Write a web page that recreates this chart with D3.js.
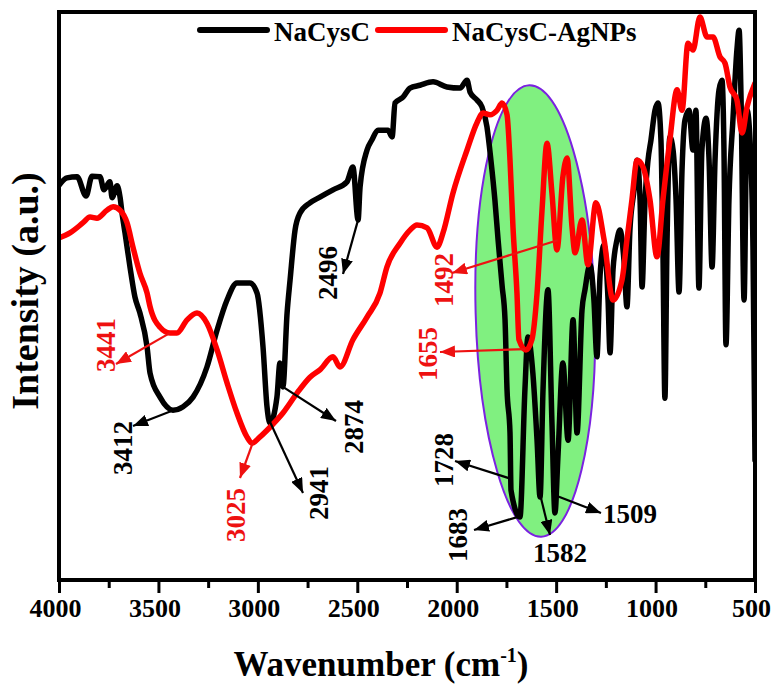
<!DOCTYPE html>
<html>
<head>
<meta charset="utf-8">
<script src="https://cdn.jsdelivr.net/npm/d3@7/dist/d3.min.js"></script>
<style>
  body { margin: 0; background: #fff; }
  svg text { font-family: "Liberation Serif", "DejaVu Serif", serif; font-weight: bold; }
</style>
</head>
<body>
<svg id="chart" width="784" height="688"></svg>
<script>
// NaCysC (black) spectrum
const cysWn = [4000,3960,3909,3864,3834,3794,3774,3744,3733,3708,
  3693,3683,3668,3643,3618,3593,3557,3542,3492,3427,
  3376,3326,3256,3205,3155,3105,3040,3004,2974,2954,
  2939,2904,2889,2874,2853,2838,2813,2788,2738,2688,
  2622,2552,2522,2496,2486,2451,2426,2396,2346,2325,
  2310,2270,2235,2185,2119,2049,1983,1948,1933,1898,
  1873,1848,1828,1808,1792,1772,1757,1747,1732,1727,
  1682,1657,1642,1617,1596,1581,1566,1541,1521,1506,
  1491,1466,1440,1415,1395,1370,1355,1330,1310,1295,
  1279,1259,1239,1229,1214,1194,1179,1159,1144,1129,
  1108,1093,1078,1068,1053,1038,1023,1003,988,973,
  963,953,943,928,912,897,882,867,852,832,
  812,797,782,767,746,731,716,701,681,666,
  656,646,631,611,591,580,570,555,540,525,
  510,500];
const cysInt = [69.5,70.8,71.0,67.6,71.1,71.0,68.7,70.1,67.3,69.4,
  67.4,64.6,61.1,55.1,49.8,47.0,41.0,36.4,32.2,29.9,
  30.5,32.2,37.5,44.0,49.3,52.3,52.3,50.5,41.0,30.5,
  27.6,32.2,38.2,34.0,47.0,52.8,61.6,64.6,66.4,67.4,
  68.7,70.1,72.7,63.4,69.2,75.7,77.5,79.2,79.2,78.0,
  84.0,85.0,86.6,87.1,87.7,86.8,86.6,88.0,85.9,84.5,
  83.3,79.8,73.9,66.9,59.9,51.9,45.8,33.5,25.9,15.8,
  11.1,33.5,42.8,36.4,24.6,14.6,33.5,51.1,27.6,11.8,
  21.7,38.2,24.6,45.8,25.9,47.5,51.1,55.5,49.3,39.3,
  53.7,59.0,49.3,40.0,54.6,59.9,61.6,56.3,48.1,61.6,
  68.7,73.9,66.9,51.6,66.9,73.9,77.5,82.7,84.0,77.5,
  58.1,32.0,58.1,78.0,75.7,66.9,50.7,72.2,81.0,82.7,
  75.7,82.7,51.4,75.7,81.3,73.9,55.1,73.9,86.3,88.0,
  75.7,41.4,66.9,81.0,93.3,96.8,84.5,49.3,82.7,77.5,
  58.1,21.1];

// NaCysC-AgNPs (red) spectrum
const agWn = [4000,3945,3879,3844,3809,3759,3728,3693,3658,3628,
  3593,3557,3542,3492,3442,3407,3356,3306,3256,3205,
  3155,3105,3055,3029,2989,2939,2874,2803,2738,2688,
  2622,2587,2522,2451,2386,2351,2285,2235,2200,2149,
  2099,2069,2019,1948,1898,1868,1833,1797,1772,1747,
  1732,1717,1697,1687,1652,1622,1596,1571,1546,1521,
  1496,1466,1445,1420,1405,1370,1340,1300,1259,1214,
  1169,1144,1119,1093,1063,1028,993,963,928,892,
  867,837,812,777,741,711,676,651,626,591,
  565,540,500];
const agInt = [60.2,61.1,62.9,63.9,63.7,65.1,65.7,65.1,62.9,58.6,
  54.0,50.5,48.1,44.5,43.5,43.5,45.8,47.0,45.2,40.5,
  34.7,29.4,25.2,24.1,25.2,26.9,29.4,32.9,35.7,37.0,
  39.3,37.5,42.3,46.3,50.5,55.1,59.3,61.6,62.5,62.0,
  58.6,61.1,68.1,75.7,80.5,82.2,81.9,82.7,84.0,81.9,
  73.9,62.1,50.5,42.3,40.5,42.3,50.5,65.1,76.9,68.1,
  58.1,71.0,74.3,62.1,57.6,63.4,55.5,66.4,59.9,49.3,
  52.8,59.9,66.9,73.9,72.7,66.9,56.9,66.9,77.5,86.3,
  82.7,94.5,93.3,99.1,95.6,95.6,92.1,91.0,86.8,84.5,
  78.7,83.3,87.5];

const seriesNames = ["NaCysC", "NaCysC-AgNPs"];
const seriesColors = ["#000000", "#ff0000"];

const majorTicks = [4000,3500,3000,2500,2000,1500,1000,500];
const minorTicks = [3750,3250,2750,2250,1750,1250,750];

// labelled peaks
const peakText = ["3441","3412","3025","2941","2874","2496","1492","1655","1728","1683","1582","1509"];
const peakWn = [3441,3412,3025,2941,2874,2496,1492,1655,1728,1683,1582,1509];
const peakSeries = [1,0,1,0,0,0,1,1,0,0,0,0];

// highlighted band (the green ellipse)
const bandWn = [1905, 1305];
const bandInt = [7.6, 87.1];

// where arrows end and labels sit (pixels)
const labelLayout = [
  {tip: [116, 364], at: [115, 345], rot: true},
  {tip: [133, 426], at: [132, 448], rot: true},
  {tip: [240, 478], at: [245, 515], rot: true},
  {tip: [303, 493], at: [328, 493], rot: true},
  {tip: [336, 421], at: [363, 427], rot: true},
  {tip: [343, 274], at: [337, 273], rot: true},
  {tip: [452, 273], at: [453, 280], rot: true},
  {tip: [440, 352], at: [437, 354], rot: true},
  {tip: [455, 461], at: [453, 460], rot: true},
  {tip: [474, 530], at: [467, 535], rot: true},
  {tip: [550, 535], at: [560, 562], rot: false, anchor: "middle"},
  {tip: [601, 513], at: [603, 523], rot: false, anchor: "start"}
];

const svg = d3.select("#chart");
const plotLeft = 59, plotRight = 755, plotTop = 12, plotBottom = 580;
const serif = '"Liberation Serif", "DejaVu Serif", serif';

const x = d3.scaleLinear().domain([4000, 500]).range([plotLeft, plotRight]);
const y = d3.scaleLinear().domain([0, 100]).range([plotBottom, plotTop]);

const defs = svg.append("defs");
defs.append("clipPath").attr("id", "plot-clip")
  .append("rect").attr("x", plotLeft).attr("y", plotTop)
  .attr("width", plotRight - plotLeft).attr("height", plotBottom - plotTop);

seriesColors.forEach((c, i) => {
  defs.append("marker")
    .attr("id", "arrow" + i)
    .attr("markerUnits", "userSpaceOnUse")
    .attr("markerWidth", 16).attr("markerHeight", 12)
    .attr("refX", 15).attr("refY", 6)
    .attr("orient", "auto")
    .append("path")
    .attr("d", "M0,0 L15,6 L0,12 Z")
    .attr("fill", i === 1 ? "#ee1111" : c);
});

// green band
const bx0 = x(bandWn[0]), bx1 = x(bandWn[1]);
const by0 = y(bandInt[1]), by1 = y(bandInt[0]);
const bcx = (bx0 + bx1) / 2, bcy = (by0 + by1) / 2;
svg.append("ellipse")
  .attr("cx", bcx).attr("cy", bcy)
  .attr("rx", (bx1 - bx0) / 2).attr("ry", (by1 - by0) / 2)
  .attr("transform", `rotate(-1.5,${bcx},${bcy})`)
  .attr("fill", "#80f080")
  .attr("stroke", "#7b22e0")
  .attr("stroke-width", 2);

// spectra
const line = d3.line()
  .x(d => x(d[0]))
  .y(d => y(d[1]))
  .curve(d3.curveMonotoneX);

const series = [
  d3.zip(cysWn, cysInt),
  d3.zip(agWn, agInt)
];

const plot = svg.append("g").attr("clip-path", "url(#plot-clip)");
series.forEach((s, i) => {
  plot.append("path")
    .datum(s)
    .attr("fill", "none")
    .attr("stroke", seriesColors[i])
    .attr("stroke-width", 5.5)
    .attr("stroke-linejoin", "round")
    .attr("stroke-linecap", "round")
    .attr("d", line);
});

// value of a series at a given wavenumber
function valueAt(s, w) {
  for (let i = 0; i < s.length - 1; i++) {
    const a = s[i], b = s[i + 1];
    if (w <= a[0] && w >= b[0]) {
      const t = (a[0] - w) / (a[0] - b[0]);
      return a[1] + t * (b[1] - a[1]);
    }
  }
  return s[s.length - 1][1];
}

// peak annotations
const notes = svg.append("g");
peakText.forEach((t, i) => {
  const si = peakSeries[i];
  const lay = labelLayout[i];
  const c = si === 1 ? "#ee1111" : "#000";
  const sx = x(peakWn[i]), sy = y(valueAt(series[si], peakWn[i]));
  notes.append("line")
    .attr("x1", sx).attr("y1", sy)
    .attr("x2", lay.tip[0]).attr("y2", lay.tip[1])
    .attr("stroke", c)
    .attr("stroke-width", 2.2)
    .attr("marker-end", `url(#arrow${si})`);
  const txt = notes.append("text")
    .attr("fill", c)
    .attr("font-size", 27)
    .text(t);
  if (lay.rot) {
    txt.attr("text-anchor", "middle")
      .attr("transform", `translate(${lay.at[0]},${lay.at[1]}) rotate(-90)`);
  } else {
    txt.attr("text-anchor", lay.anchor)
      .attr("x", lay.at[0]).attr("y", lay.at[1]);
  }
});

// axes
const minorAxis = svg.append("g")
  .attr("transform", `translate(0,${plotBottom})`)
  .call(d3.axisBottom(x).tickValues(minorTicks).tickSize(8).tickFormat(""));
minorAxis.select(".domain").remove();
minorAxis.selectAll("line").attr("stroke-width", 3);

const majorAxis = svg.append("g")
  .attr("transform", `translate(0,${plotBottom})`)
  .call(d3.axisBottom(x).tickValues(majorTicks).tickSize(13).tickPadding(6).tickFormat(d3.format("d")));
majorAxis.attr("font-family", serif);
majorAxis.select(".domain").remove();
majorAxis.selectAll("line").attr("stroke-width", 3);
majorAxis.selectAll("text")
  .attr("font-size", 26)
  .attr("dx", -4)
  .attr("fill", "#000");

// frame
svg.append("rect")
  .attr("x", plotLeft).attr("y", plotTop)
  .attr("width", plotRight - plotLeft).attr("height", plotBottom - plotTop)
  .attr("fill", "none")
  .attr("stroke", "#000")
  .attr("stroke-width", 4);

// axis titles
const xt = svg.append("text")
  .attr("x", 381).attr("y", 676)
  .attr("text-anchor", "middle")
  .attr("font-size", 35);
xt.append("tspan").text("Wavenumber (cm");
xt.append("tspan").attr("font-size", 20).attr("dy", -14).text("-1");
xt.append("tspan").attr("dy", 14).text(")");

svg.append("text")
  .attr("transform", "translate(38,291) rotate(-90)")
  .attr("text-anchor", "middle")
  .attr("font-size", 38)
  .text("Intensity (a.u.)");

// legend
const legendX = [200, 378];
const legend = svg.append("g");
seriesNames.forEach((n, i) => {
  legend.append("line")
    .attr("x1", legendX[i]).attr("x2", legendX[i] + 67)
    .attr("y1", 30).attr("y2", 30)
    .attr("stroke", seriesColors[i])
    .attr("stroke-width", 6)
    .attr("stroke-linecap", "round");
  legend.append("text")
    .attr("x", legendX[i] + 74).attr("y", 41)
    .attr("font-size", 27)
    .text(n);
});
</script>
</body>
</html>
